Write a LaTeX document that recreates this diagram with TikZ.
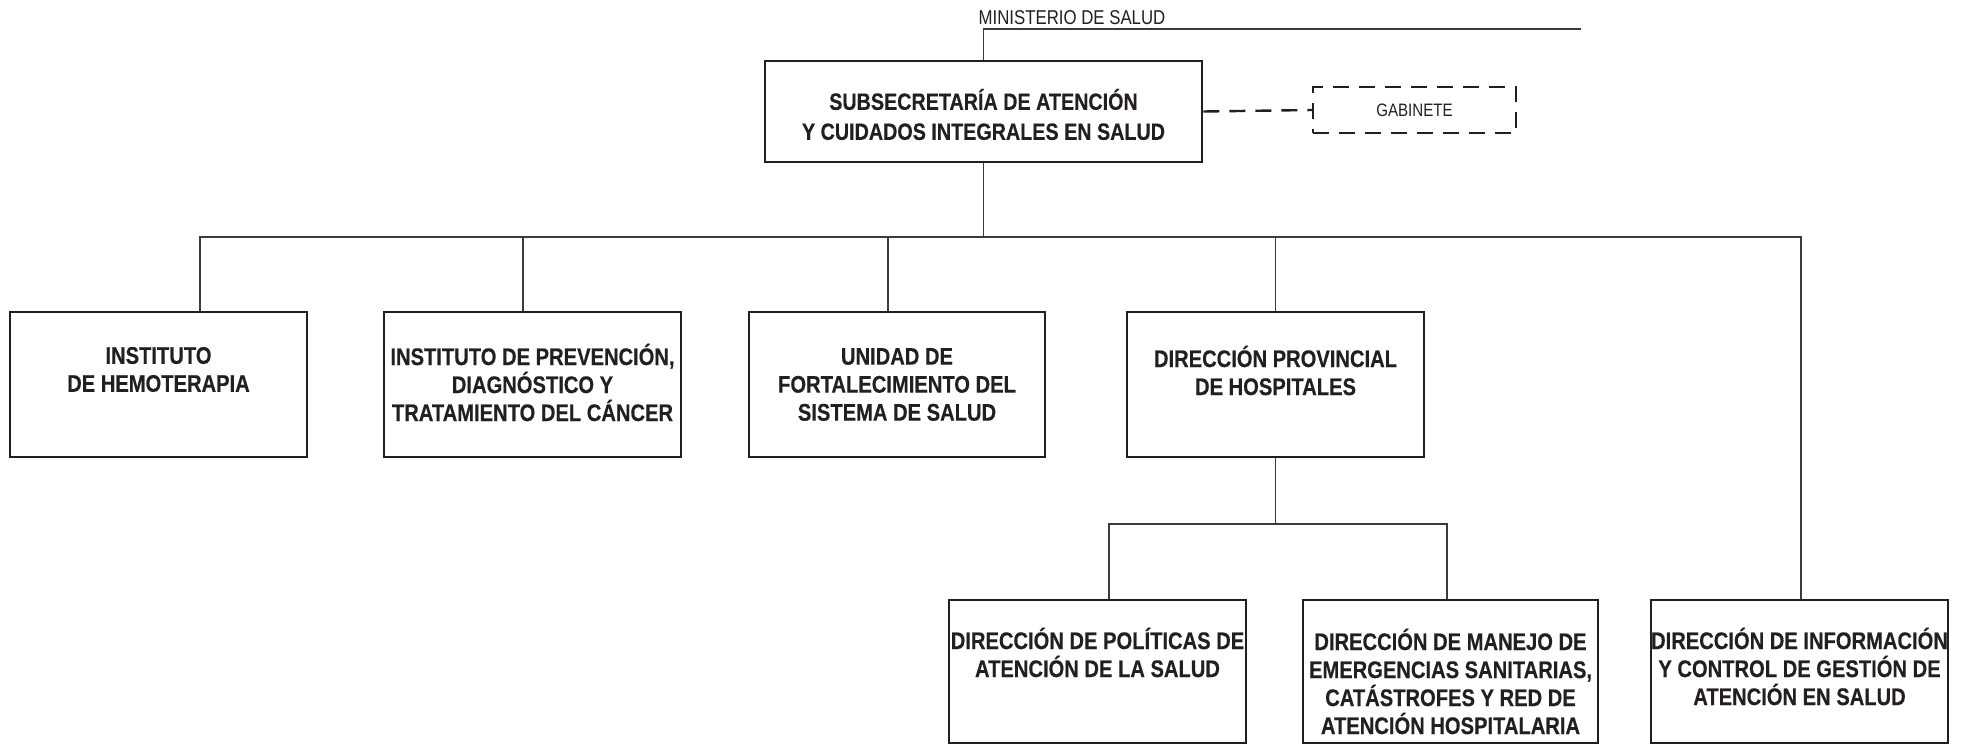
\documentclass[tikz,border=0pt]{standalone}
\usepackage{fontspec}
\setmainfont{Liberation Sans}[FakeStretch=0.84, BoldFeatures={FakeBold=0.35}]
\definecolor{ink}{HTML}{231F20}
\definecolor{wire}{HTML}{3C3A3B}
\tikzset{
  orgbox/.style={draw=ink, line width=2.6pt, inner sep=0pt, fill=white},
  gabbox/.style={draw=ink, line width=2.4pt, dash pattern=on 16pt off 10pt, inner sep=0pt},
  conn/.style={draw=wire, line width=1.2pt},
  dconn/.style={draw=ink, line width=2.4pt, dash pattern=on 16pt off 10pt},
  lbl/.style={align=center, font=\bfseries\fontsize{24}{28}\selectfont, text=ink, inner sep=0pt},
  sublbl/.style={align=center, font=\bfseries\fontsize{23.5}{30}\selectfont, text=ink, inner sep=0pt},
  plain/.style={align=center, text=ink, inner sep=0pt}
}
\begin{document}
\begin{tikzpicture}[x=1pt,y=-1pt]
\useasboundingbox (0,0) rectangle (1964,744);
% boxes
\node[orgbox, minimum width=437pt, minimum height=101pt] (sub) at (983.5,111.5) {};
\node[gabbox, minimum width=203pt, minimum height=46pt] (gab) at (1414.5,110) {};
\node[orgbox, minimum width=297pt, minimum height=145pt] (b1) at (158.5,384.5) {};
\node[orgbox, minimum width=297pt, minimum height=145pt] (b2) at (532.5,384.5) {};
\node[orgbox, minimum width=296pt, minimum height=145pt] (b3) at (897,384.5) {};
\node[orgbox, minimum width=297pt, minimum height=145pt] (b4) at (1275.5,384.5) {};
\node[orgbox, minimum width=297pt, minimum height=143pt] (b5) at (1097.5,671.5) {};
\node[orgbox, minimum width=295pt, minimum height=143pt] (b6) at (1450.5,671.5) {};
\node[orgbox, minimum width=297pt, minimum height=143pt] (b7) at (1799.5,671.5) {};
% texts
\node[plain, font=\fontsize{20}{24}\selectfont] (min) at (1072,18) {MINISTERIO DE SALUD};
\node[plain, font=\fontsize{18}{22}\selectfont] (gabt) at (gab.center) {GABINETE};
\node[sublbl] (subt) at ([yshift=-3pt]sub.center) {SUBSECRETARÍA DE ATENCIÓN\\Y CUIDADOS INTEGRALES EN SALUD};
\node[lbl] (t1) at ([yshift=15pt]b1.center) {INSTITUTO\\DE HEMOTERAPIA};
\node[lbl] (t2) at ([yshift=2pt]b2.center) {INSTITUTO DE PREVENCIÓN,\\DIAGNÓSTICO Y\\TRATAMIENTO DEL CÁNCER};
\node[lbl] (t3) at (b3.center) {UNIDAD DE\\FORTALECIMIENTO DEL\\SISTEMA DE SALUD};
\node[lbl] (t4) at ([yshift=14pt]b4.center) {DIRECCIÓN PROVINCIAL\\DE HOSPITALES};
\node[lbl] (t5) at ([yshift=19pt]b5.center) {DIRECCIÓN DE POLÍTICAS DE\\ATENCIÓN DE LA SALUD};
\node[lbl] (t6) at ([yshift=-10pt]b6.center) {DIRECCIÓN DE MANEJO DE\\EMERGENCIAS SANITARIAS,\\CATÁSTROFES Y RED DE\\ATENCIÓN HOSPITALARIA};
\node[lbl] (t7) at ([yshift=5pt]b7.center) {DIRECCIÓN DE INFORMACIÓN\\Y CONTROL DE GESTIÓN DE\\ATENCIÓN EN SALUD};
% connector coordinates
\coordinate (minR) at (1581,29);
\coordinate (busL) at (200,237);
\coordinate (busR) at (1801,237);
\coordinate (d2) at (523,237);
\coordinate (d3) at (888,237);
\coordinate (sbL) at (1109,524);
\coordinate (sbR) at (1447,524);
% connectors
\draw[conn] (sub.north) -- (sub.north |- minR) -- (minR);
\draw[dconn] (sub.east) -- (gab.west);
\draw[conn] (sub.south) -- (sub.south |- busL);
\draw[conn] (busL |- b1.north) -- (busL) -- (busR) -- (busR |- b7.north);
\draw[conn] (d2) -- (d2 |- b2.north);
\draw[conn] (d3) -- (d3 |- b3.north);
\draw[conn] (b4.north |- busL) -- (b4.north);
\draw[conn] (b4.south) -- (b4.south |- sbL);
\draw[conn] (sbL |- b5.north) -- (sbL) -- (sbR) -- (sbR |- b6.north);
\end{tikzpicture}
\end{document}
